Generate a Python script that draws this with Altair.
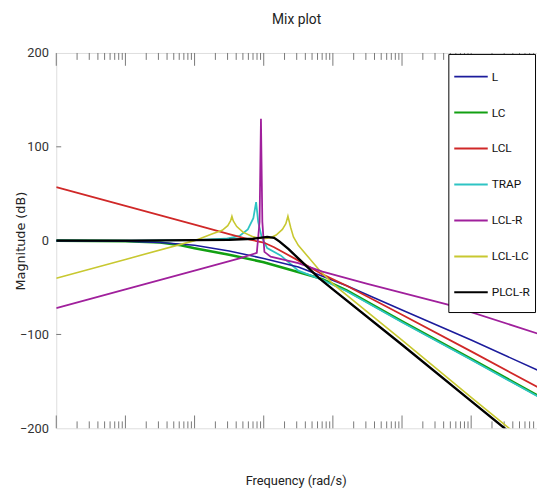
import altair as alt
import pandas as pd

# ---- data (x in log10 rad/s, y in dB) ----
names = ["L", "LC", "LCL", "TRAP", "LCL-R", "LCL-LC", "PLCL-R"]
colors = ["#1c1c9c", "#12a012", "#d02828", "#2ec4c4", "#a0209c", "#c8c830", "#000000"]

L_x = [1, 2, 2.5, 3, 3.5, 4, 4.5, 4.85, 5.2, 6, 7, 7.96]
L_y = [0, -0.5, -2, -5, -11, -19, -28, -38, -48, -74, -106, -138]

LC_x = [1, 2, 2.5, 2.8, 3, 3.5, 4, 4.47, 4.85, 5.2, 6, 7, 7.96]
LC_y = [0, -0.5, -2, -5, -8, -15, -23, -33, -41, -53, -86, -126, -165]

LCL_x = [1, 2, 3, 3.5, 3.8, 4.0, 4.15, 4.47, 4.85, 5.2, 6, 7, 7.96]
LCL_y = [57, 37, 17, 7, 1, -2, -7, -20, -36, -48, -79, -118, -156]

TRAP_x = [1, 2, 3, 3.45, 3.65, 3.77, 3.85, 3.89, 3.92, 3.97, 4.05, 4.25, 4.5, 4.85, 5.2, 6, 7, 7.96]
TRAP_y = [0, 0, 0.5, 2, 5, 12, 24, 41, 20, 4, -8, -16, -32, -42, -54, -87, -127, -166]

LCLR_x = [1, 2, 3, 3.65, 3.9, 3.94, 3.96, 3.98, 4.01, 4.1, 4.5, 4.85, 5.5, 6.65, 7.96]
LCLR_y = [-72, -52, -32, -19, -13, 20, 130, 20, -12, -17, -24, -33, -46, -68, -99]

LCLLC_x = [1, 2, 3, 3.25, 3.4, 3.48, 3.52, 3.54, 3.56, 3.61, 3.7, 3.85, 4.0, 4.1, 4.18, 4.27,
           4.32, 4.35, 4.39, 4.43, 4.5, 4.65, 4.8, 5, 6, 7, 7.55, 7.6]
LCLLC_y = [-40, -20, 0, 7, 11, 16, 21, 26, 21, 15, 9, 4, 2, 3, 6, 12,
           18, 26, 14, 4, -5, -18, -31, -46, -106, -167, -200, -203]

PLCLR_x = [1, 2, 3, 3.5, 3.85, 4.05, 4.15, 4.23, 4.36, 4.5, 4.8, 5, 6, 7, 7.5, 7.55]
PLCLR_y = [0, 0, 0.5, 1, 2, 4, 3, -1, -9, -19, -40, -52, -111, -171, -201, -204]

series_x = [L_x, LC_x, LCL_x, TRAP_x, LCLR_x, LCLLC_x, PLCLR_x]
series_y = [L_y, LC_y, LCL_y, TRAP_y, LCLR_y, LCLLC_y, PLCLR_y]
widths = [1.6, 2.6, 1.8, 1.8, 1.8, 1.6, 2.4]

# axis tick positions (decades and in-between multiples)
decades = [1, 2, 3, 4, 5, 6, 7]
multiples = [2, 3, 4, 5, 6, 7, 8, 9]
y_ticks = [-100, 0, 100]

rows = []
for n, xs, ys in zip(names, series_x, series_y):
    for a, b in zip(xs, ys):
        rows.append({"series": n, "f": 10 ** a, "db": b})
df = pd.DataFrame(rows)

major_df = pd.DataFrame({"f": [10 ** d for d in decades]})
minor_df = pd.DataFrame({"f": [m * 10 ** d for d in decades for m in multiples if m * 10 ** d < 10 ** 7.95]})
yt_df = pd.DataFrame({"db": y_ticks})

W, H = 488, 381
FONT = "Roboto"
AXC = "#787878"

x_enc = alt.X("f:Q", scale=alt.Scale(type="log", domain=[10, 10 ** 7.952]),
              axis=alt.Axis(labels=False, ticks=False, domain=False, grid=False,
                            title="Frequency (rad/s)", titleFont=FONT, titleFontSize=13,
                            titleFontWeight="normal", titleColor="#222",
                            titleX=243, titleY=53, titleBaseline="middle"))
y_enc = alt.Y("db:Q", scale=alt.Scale(domain=[-200, 200]),
              axis=alt.Axis(values=[-200, -100, 0, 100, 200], ticks=False, domain=False, grid=False,
                            labelFont=FONT, labelFontSize=13, labelColor="#333", labelPadding=8,
                            title="Magnitude (dB)", titleFont="DejaVu Sans", titleFontSize=13,
                            titleFontWeight="normal", titleColor="#222",
                            titleX=-36, titleY=H / 2, titleAngle=-90, titleAlign="center",
                            titleBaseline="middle"))

legend = alt.Legend(title=" ", titleOrient="bottom", titleFontSize=8, titlePadding=1,
                    orient="none", legendX=398, legendY=1,
                    symbolType="stroke", symbolSize=1156, symbolStrokeWidth=2,
                    labelFont=FONT, labelFontSize=12, labelColor="#111", labelOffset=3,
                    fillColor="white", strokeColor="black", padding=5, rowPadding=12.5)
color_enc = alt.Color("series:N", scale=alt.Scale(domain=names, range=colors), legend=legend)

draw_order = ["LC", "TRAP", "L", "LCL", "LCL-LC", "LCL-R", "PLCL-R"]
layers = []
for n in draw_order:
    w = widths[names.index(n)]
    layers.append(
        alt.Chart(df).transform_filter(alt.datum.series == n)
        .mark_line(strokeWidth=w, clip=True)
        .encode(x=x_enc, y=y_enc, color=color_enc)
    )

tick_layers = [
    alt.Chart(major_df).mark_rule(color=AXC, strokeWidth=1).encode(x=x_enc, y=alt.value(H), y2=alt.value(H - 13)),
    alt.Chart(minor_df).mark_rule(color=AXC, strokeWidth=1).encode(x=x_enc, y=alt.value(H), y2=alt.value(H - 7)),
    alt.Chart(major_df).mark_rule(color=AXC, strokeWidth=1).encode(x=x_enc, y=alt.value(0), y2=alt.value(13)),
    alt.Chart(minor_df).mark_rule(color=AXC, strokeWidth=1).encode(x=x_enc, y=alt.value(0), y2=alt.value(7)),
    alt.Chart(yt_df).mark_rule(color=AXC, strokeWidth=1).encode(y=y_enc, x=alt.value(0), x2=alt.value(5)),
]

chart = alt.layer(*tick_layers, *layers).properties(
    width=W, height=H,
    title=alt.Title("Mix plot", font=FONT, fontSize=14, fontWeight="normal", color="#222",
                    anchor="middle", offset=20),
    autosize=alt.AutoSizeParams(type="none"),
    padding={"left": 49, "top": 42, "right": 0, "bottom": 60},
).configure_view(stroke=AXC, strokeWidth=1.5).configure(background="white")

chart.save("out.html", embed_options={"renderer": "svg", "actions": False})
